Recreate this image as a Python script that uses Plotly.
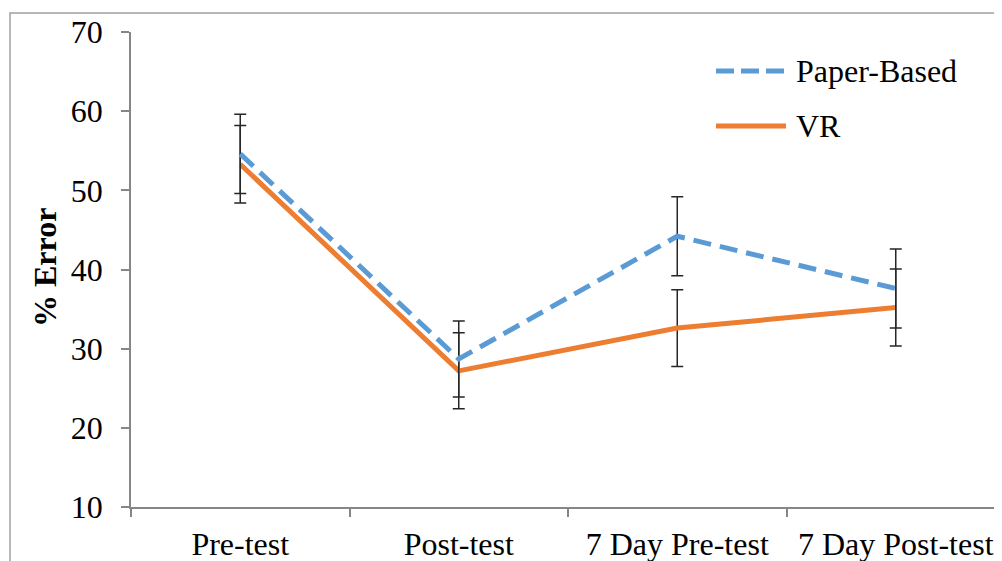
import plotly.graph_objects as go

categories = ["Pre-test", "Post-test", "7 Day Pre-test", "7 Day Post-test"]
paper_based = [54.6, 28.7, 44.2, 37.6]
paper_err = [5.0, 4.8, 5.0, 5.0]
vr = [53.3, 27.2, 32.6, 35.2]
vr_err = [4.9, 4.8, 4.85, 4.85]
series_names = ["Paper-Based", "VR"]
y_ticks = [10, 20, 30, 40, 50, 60, 70]

BLUE = "#5B9BD5"
ORANGE = "#ED7D31"
FONT = "Liberation Serif, Times New Roman, serif"

# page body has an 8px margin; figure coords = screen coords - 8
OFF = 8
W, H = 1002, 561
ML, MT = 131 - OFF, 32 - OFF
PLOT_BOTTOM = 507 - OFF
MR = 0
MB = H - PLOT_BOTTOM
PW = W - ML - MR
PH = H - MT - MB

def px(x):  # screen x -> paper
    return (x - OFF - ML) / PW

def py(y):  # screen y -> paper
    return (PLOT_BOTTOM - (y - OFF)) / PH

fig = go.Figure()
fig.add_trace(go.Scatter(
    x=categories, y=vr, mode="lines", name=series_names[1],
    line=dict(color=ORANGE, width=5),
    error_y=dict(type="data", array=vr_err, color="#262626", thickness=1.5, width=6),
    showlegend=False,
))
fig.add_trace(go.Scatter(
    x=categories, y=paper_based, mode="lines", name=series_names[0],
    line=dict(color=BLUE, width=5, dash="18px,9px"),
    error_y=dict(type="data", array=paper_err, color="#262626", thickness=1.5, width=6),
    showlegend=False,
))

cat_w = 218.5
fig.update_xaxes(
    type="category", range=[-0.5, -0.5 + PW / cat_w],
    tickson="boundaries", ticks="outside", ticklen=8, tickcolor="#868686", tickwidth=1.5,
    showline=True, linecolor="#868686", linewidth=1.5, showgrid=False,
    tickfont=dict(family=FONT, size=32, color="black"),
    ticklabelstandoff=8,
)
fig.update_yaxes(
    range=[10, 70], tickvals=y_ticks, ticks="outside", ticklen=8,
    tickcolor="#868686", tickwidth=1.5,
    showline=True, linecolor="#868686", linewidth=1.5, showgrid=False, zeroline=False,
    tickfont=dict(family=FONT, size=32, color="black"),
    ticklabelstandoff=12,
)

shapes = [
    dict(type="rect", xref="paper", yref="paper", x0=px(10), x1=1.05, y0=-0.3, y1=py(13),
         line=dict(color="#a0a0a0", width=1.5), fillcolor="rgba(0,0,0,0)", layer="below"),
    dict(type="line", xref="paper", yref="paper", x0=px(716), x1=px(786), y0=py(71), y1=py(71),
         line=dict(color=BLUE, width=5, dash="18px,7px")),
    dict(type="line", xref="paper", yref="paper", x0=px(716), x1=px(786), y0=py(126), y1=py(126),
         line=dict(color=ORANGE, width=5)),
]
annotations = [
    dict(xref="paper", yref="paper", x=px(794), y=py(71), text=series_names[0], showarrow=False,
         xanchor="left", yanchor="middle", font=dict(family=FONT, size=32, color="black")),
    dict(xref="paper", yref="paper", x=px(794), y=py(126), text=series_names[1], showarrow=False,
         xanchor="left", yanchor="middle", font=dict(family=FONT, size=32, color="black")),
    dict(xref="paper", yref="paper", x=px(45), y=py(268), text="<b>% Error</b>", showarrow=False,
         textangle=-90, xanchor="center", yanchor="middle",
         font=dict(family=FONT, size=32, color="black")),
]

fig.update_layout(
    width=W, height=H,
    margin=dict(l=ML, r=MR, t=MT, b=MB),
    paper_bgcolor="white", plot_bgcolor="white",
    shapes=shapes, annotations=annotations,
    showlegend=False,
)
fig.write_html("out.html")
